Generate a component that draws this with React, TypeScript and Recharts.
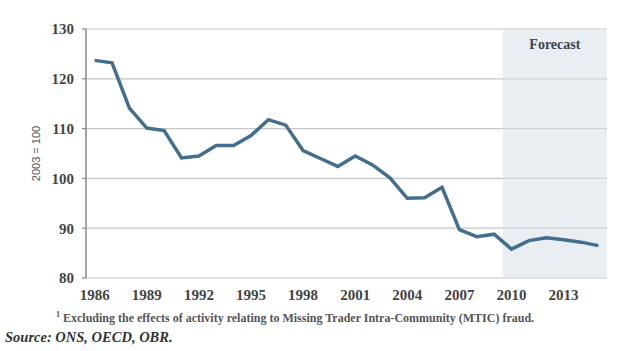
import {
  LineChart,
  Line,
  XAxis,
  YAxis,
  CartesianGrid,
  ReferenceArea,
} from 'recharts'

// 2003 = 100, outturn to 2009, forecast from 2010
const years = [
  1986, 1987, 1988, 1989, 1990, 1991, 1992, 1993, 1994, 1995,
  1996, 1997, 1998, 1999, 2000, 2001, 2002, 2003, 2004, 2005,
  2006, 2007, 2008, 2009, 2010, 2011, 2012, 2013, 2014, 2015,
]
const values = [
  123.7, 123.2, 114.1, 110.1, 109.6, 104.1, 104.5, 106.6, 106.6, 108.6,
  111.8, 110.7, 105.6, 104.0, 102.4, 104.5, 102.7, 100.1, 96.0, 96.1,
  98.2, 89.7, 88.3, 88.8, 85.8, 87.5, 88.1, 87.7, 87.2, 86.5,
]
const labelYears = [1986, 1989, 1992, 1995, 1998, 2001, 2004, 2007, 2010, 2013]
const boundaryTicks = [
  1985.5, 1988.5, 1991.5, 1994.5, 1997.5, 2000.5, 2003.5, 2006.5, 2009.5, 2012.5, 2015.5,
]
const yTicks = [80, 90, 100, 110, 120, 130]
const forecastStart = 2009.5
const forecastEnd = 2015.5

const data = years.map((year, i) => ({ year, value: values[i] }))

const SERIF = '"Liberation Serif", "DejaVu Serif", serif'
const tickStyle = { fill: '#444', fontSize: 15, fontFamily: SERIF, fontWeight: 'bold' }

export default function App() {
  return (
    <div
      style={{
        position: 'fixed',
        left: 0,
        top: 0,
        width: 643,
        height: 351,
        background: '#fff',
      }}
    >
      <LineChart
        width={643}
        height={308}
        data={data}
        margin={{ top: 29, right: 36, left: 26, bottom: 0 }}
      >
        <CartesianGrid vertical={false} stroke="#c6c6c6" strokeWidth={1.2} xAxisId="labels" />

        <ReferenceArea
          xAxisId="labels"
          x1={forecastStart}
          x2={forecastEnd}
          y1={80}
          y2={130}
          fill="#d5e0e8"
          fillOpacity={0.55}
          stroke="none"
          label={{
            value: 'Forecast',
            position: 'insideTop',
            offset: 10,
            fill: '#3d4252',
            fontSize: 14,
            fontFamily: SERIF,
            fontWeight: 'bold',
          }}
        />

        {/* axis line + tick marks at category boundaries */}
        <XAxis
          xAxisId="bounds"
          dataKey="year"
          type="number"
          domain={[1985.5, 2015.5]}
          ticks={boundaryTicks}
          interval={0}
          height={0}
          tick={false}
          tickSize={5}
          axisLine={{ stroke: '#888', strokeWidth: 1.5 }}
          tickLine={{ stroke: '#888', strokeWidth: 1.2 }}
        />
        {/* year labels at category centres */}
        <XAxis
          xAxisId="labels"
          dataKey="year"
          type="number"
          domain={[1985.5, 2015.5]}
          ticks={labelYears}
          interval={0}
          height={30}
          axisLine={false}
          tickLine={false}
          tickSize={6}
          tickMargin={5}
          tick={tickStyle}
        />

        <YAxis
          domain={[80, 130]}
          ticks={yTicks}
          interval={0}
          width={60}
          tickSize={4}
          tickMargin={8}
          axisLine={{ stroke: '#888', strokeWidth: 1.5 }}
          tickLine={{ stroke: '#888', strokeWidth: 1.2 }}
          tick={tickStyle}
          label={{
            value: '2003 = 100',
            angle: -90,
            position: 'insideLeft',
            offset: 10,
            fill: '#555',
            fontSize: 11,
            fontFamily: '"Liberation Sans", Arial, sans-serif',
            style: { textAnchor: 'middle' },
          }}
        />

        <Line
          xAxisId="labels"
          type="linear"
          dataKey="value"
          stroke="#436f8c"
          strokeWidth={3.5}
          dot={false}
          isAnimationActive={false}
        />
      </LineChart>

      <div
        style={{
          position: 'absolute',
          left: 56,
          top: 310,
          fontFamily: SERIF,
          fontWeight: 'bold',
          fontSize: 12,
          color: '#555',
          whiteSpace: 'nowrap',
        }}
      >
        <sup style={{ fontSize: 8 }}>1</sup> Excluding the effects of activity relating to Missing Trader
        Intra-Community (MTIC) fraud.
      </div>
      <div
        style={{
          position: 'absolute',
          left: 5,
          top: 329,
          fontFamily: SERIF,
          fontWeight: 'bold',
          fontStyle: 'italic',
          fontSize: 14.5,
          color: '#333',
          whiteSpace: 'nowrap',
        }}
      >
        Source: ONS, OECD, OBR.
      </div>
    </div>
  )
}
